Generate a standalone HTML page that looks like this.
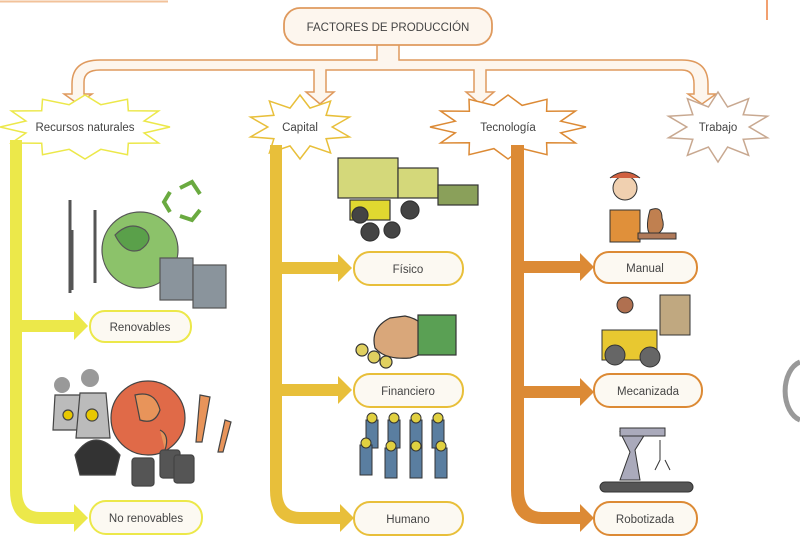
<!DOCTYPE html>
<html><head><meta charset="utf-8"><style>
body{margin:0;background:#fff;width:800px;height:554px;overflow:hidden}
svg{display:block}
text{font-family:"Liberation Sans",sans-serif;fill:#444}
</style></head><body>
<svg id="s" width="800" height="554" viewBox="0 0 800 554" xmlns="http://www.w3.org/2000/svg">
<line x1="0" y1="1.5" x2="168" y2="1.5" stroke="#f2c29a" stroke-width="2"/>
<line x1="767" y1="0" x2="767" y2="20" stroke="#f2a070" stroke-width="2"/>
<path d="M800 362 A20 30 0 0 0 800 420" fill="none" stroke="#999" stroke-width="5"/>

<path d="M377 44 V60 H100 Q72 60 72 84 V94 H64 L78 104 L92 94 H84 V82 Q84 70 100 70 H314 V92 H306 L320 104 L334 92 H326 V70 H474 V92 H466 L480 104 L494 92 H486 V70 H682 Q694 70 694 84 V94 H688 L702 104 L716 94 H708 V84 Q708 60 682 60 H399 V44 Z" fill="#fdf6ee" stroke="#df9a5e" stroke-width="1.5"/>
<rect x="284" y="8" width="208" height="37" rx="16" fill="#fdf6ee" stroke="#df9a5e" stroke-width="1.8"/>
<text x="388" y="31" font-size="11.5" text-anchor="middle">FACTORES DE PRODUCCIÓN</text>

<g id="stars"></g>

<g fill="#ece84a">
<path d="M10 140 H22 V490 Q22 512 40 512 H74 V504 L88 518 L74 532 V524 H40 Q10 524 10 490 Z"/>
<path d="M22 320 H74 V311 L88 326 L74 340 V332 H22 Z"/>
</g>
<g fill="#e8bf3a">
<path d="M270 145 H282 V490 Q282 512 300 512 H340 V504 L354 518 L340 532 V524 H300 Q270 524 270 490 Z"/>
<path d="M282 262 H338 V254 L352 268 L338 282 V274 H282 Z"/>
<path d="M282 384 H338 V376 L352 390 L338 404 V396 H282 Z"/>
</g>
<g fill="#dc8a35">
<path d="M511 145 H524 V490 Q524 512 542 512 H580 V504 L594 518 L580 532 V524 H542 Q511 524 511 490 Z"/>
<path d="M524 261 H580 V253 L594 267 L580 281 V273 H524 Z"/>
<path d="M524 386 H580 V378 L594 392 L580 406 V398 H524 Z"/>
</g>

<g fill="#fcf9f2" stroke-width="2">
<rect x="90" y="311" width="101" height="31" rx="15" stroke="#ece84a"/>
<rect x="90" y="501" width="112" height="33" rx="16" stroke="#ece84a"/>
<rect x="354" y="252" width="109" height="33" rx="16" stroke="#e8bf3a"/>
<rect x="354" y="374" width="109" height="33" rx="16" stroke="#e8bf3a"/>
<rect x="354" y="502" width="109" height="33" rx="16" stroke="#e8bf3a"/>
<rect x="594" y="252" width="103" height="31" rx="15" stroke="#dc8a35"/>
<rect x="594" y="374" width="108" height="33" rx="16" stroke="#dc8a35"/>
<rect x="594" y="502" width="103" height="33" rx="16" stroke="#dc8a35"/>
</g>
<g font-size="11.5" text-anchor="middle">
<text x="140" y="331">Renovables</text>
<text x="146" y="522">No renovables</text>
<text x="408" y="273">Físico</text>
<text x="408" y="395">Financiero</text>
<text x="408" y="523">Humano</text>
<text x="645" y="272">Manual</text>
<text x="648" y="395">Mecanizada</text>
<text x="645" y="523">Robotizada</text>
</g>

<g stroke="#555" stroke-width="1.2">
<line x1="70" y1="200" x2="70" y2="293" stroke-width="3"/>
<line x1="95" y1="210" x2="95" y2="283" stroke-width="3"/>
<line x1="72" y1="230" x2="72" y2="290" stroke-width="3"/>
<circle cx="140" cy="250" r="38" fill="#8cc26a"/>
<path d="M115 235 q15 -15 30 -5 q10 10 -5 20 q-15 5 -25 -15z" fill="#5aa04a"/>
<rect x="160" y="258" width="33" height="42" fill="#8a949c"/>
<rect x="193" y="265" width="33" height="43" fill="#8a949c"/>
<path d="M180 188 l12 -6 l8 12 M200 210 l-8 10 l-12 -4 M170 212 l-6 -10 l6 -10" fill="none" stroke="#6aaa40" stroke-width="4"/>
</g>
<g stroke="#444" stroke-width="1.2">
<circle cx="62" cy="385" r="8" fill="#999" stroke="none"/><circle cx="90" cy="378" r="9" fill="#999" stroke="none"/>
<path d="M55 395 h25 l3 35 h-30z" fill="#bbb"/>
<path d="M80 393 h26 l4 45 h-34z" fill="#bbb"/>
<circle cx="68" cy="415" r="5" fill="#e8c800"/><circle cx="92" cy="415" r="6" fill="#e8c800"/>
<circle cx="148" cy="418" r="37" fill="#e06a48"/>
<path d="M135 395 q20 -5 25 15 q-5 15 -20 10z M160 430 q10 5 5 20" fill="#e8945a"/>
<path d="M75 455 q20 -30 45 0 l-5 20 h-35z" fill="#333"/>
<rect x="132" y="458" width="22" height="28" rx="3" fill="#555"/>
<rect x="160" y="450" width="20" height="28" rx="3" fill="#555"/>
<rect x="174" y="455" width="20" height="28" rx="3" fill="#555"/>
<path d="M200 395 l10 2 l-8 45 h-6z M225 420 l6 2 l-8 30 h-5z" fill="#e8945a"/>
</g>
<g stroke="#333" stroke-width="1.2">
<rect x="338" y="158" width="60" height="40" fill="#d4d87a"/>
<rect x="398" y="168" width="40" height="30" fill="#d4d87a"/>
<rect x="438" y="185" width="40" height="20" fill="#8aa05a"/>
<rect x="350" y="200" width="40" height="20" fill="#e0d830"/>
<circle cx="360" cy="215" r="8" fill="#444"/><circle cx="410" cy="210" r="9" fill="#444"/>
<circle cx="370" cy="232" r="9" fill="#444"/><circle cx="392" cy="230" r="8" fill="#444"/>
</g>
<g stroke="#333" stroke-width="1.2">
<path d="M390 318 q-20 10 -15 30 q10 12 35 10 q20 -5 20 -20 q-5 -18 -25 -22z" fill="#d9a77a"/>
<rect x="418" y="315" width="38" height="40" fill="#5aa054"/>
<circle cx="362" cy="350" r="6" fill="#e0d060"/><circle cx="374" cy="357" r="6" fill="#e0d060"/><circle cx="386" cy="362" r="6" fill="#e0d060"/>
</g>
<g stroke="#333" stroke-width="1" fill="#5a7ea0">
<rect x="366" y="420" width="12" height="28"/><rect x="388" y="420" width="12" height="28"/><rect x="410" y="420" width="12" height="28"/><rect x="432" y="420" width="12" height="28"/>
<rect x="360" y="445" width="12" height="30"/><rect x="385" y="448" width="12" height="30"/><rect x="410" y="448" width="12" height="30"/><rect x="435" y="448" width="12" height="30"/>
<g fill="#e0d040"><circle cx="372" cy="418" r="5"/><circle cx="394" cy="418" r="5"/><circle cx="416" cy="418" r="5"/><circle cx="438" cy="418" r="5"/><circle cx="366" cy="443" r="5"/><circle cx="391" cy="446" r="5"/><circle cx="416" cy="446" r="5"/><circle cx="441" cy="446" r="5"/></g>
</g>
<g stroke="#333" stroke-width="1">
<circle cx="625" cy="188" r="12" fill="#f0d0b0"/>
<path d="M610 178 q15 -12 30 0" fill="#d06040"/>
<path d="M610 210 h30 v32 h-30z" fill="#e0903a"/>
<path d="M650 210 q12 -5 12 8 q5 14 -10 18 q-8 -5 -2 -26z" fill="#c08050"/>
<rect x="638" y="233" width="38" height="6" fill="#b07a5a"/>
</g>
<g stroke="#333" stroke-width="1">
<rect x="602" y="330" width="55" height="30" fill="#e8c830"/>
<rect x="660" y="295" width="30" height="40" fill="#c0a880"/>
<circle cx="615" cy="355" r="10" fill="#666"/><circle cx="650" cy="357" r="10" fill="#666"/>
<circle cx="625" cy="305" r="8" fill="#b07050"/>
</g>
<g stroke="#333" stroke-width="1">
<rect x="600" y="482" width="93" height="10" rx="5" fill="#555"/>
<path d="M620 432 l10 20 l-10 28 h20 l-5 -30 l10 -16z" fill="#aab"/>
<rect x="620" y="428" width="45" height="8" fill="#aab"/>
<path d="M660 440 v20 l-5 10 M665 460 l5 10" fill="none"/>
</g>
</svg>
<script>
function star(cx,cy,rx,ry,n,ir,col){
 let p=[];for(let i=0;i<2*n;i++){let a=Math.PI*i/n-Math.PI/2;let r=i%2?ir:1;p.push((cx+Math.cos(a)*rx*r).toFixed(1)+","+(cy+Math.sin(a)*ry*r).toFixed(1));}
 return `<polygon points="${p.join(' ')}" fill="#fff" stroke="${col}" stroke-width="1.5"/>`;
}
document.getElementById('stars').innerHTML=
 star(85,127,85,32,12,0.72,'#ece84a')+
 star(300,127,52,32,10,0.62,'#e8bf3a')+
 star(508,127,78,32,12,0.7,'#dc8a35')+
 star(718,127,52,35,10,0.6,'#c8a890');
const t=[[85,'Recursos naturales'],[300,'Capital'],[508,'Tecnología'],[718,'Trabajo']];
let s='';t.forEach(x=>s+=`<text x="${x[0]}" y="131" font-size="11.5" text-anchor="middle" font-family="Liberation Sans" fill="#444">${x[1]}</text>`);
document.getElementById('stars').innerHTML+=s;
</script>
</body></html>
